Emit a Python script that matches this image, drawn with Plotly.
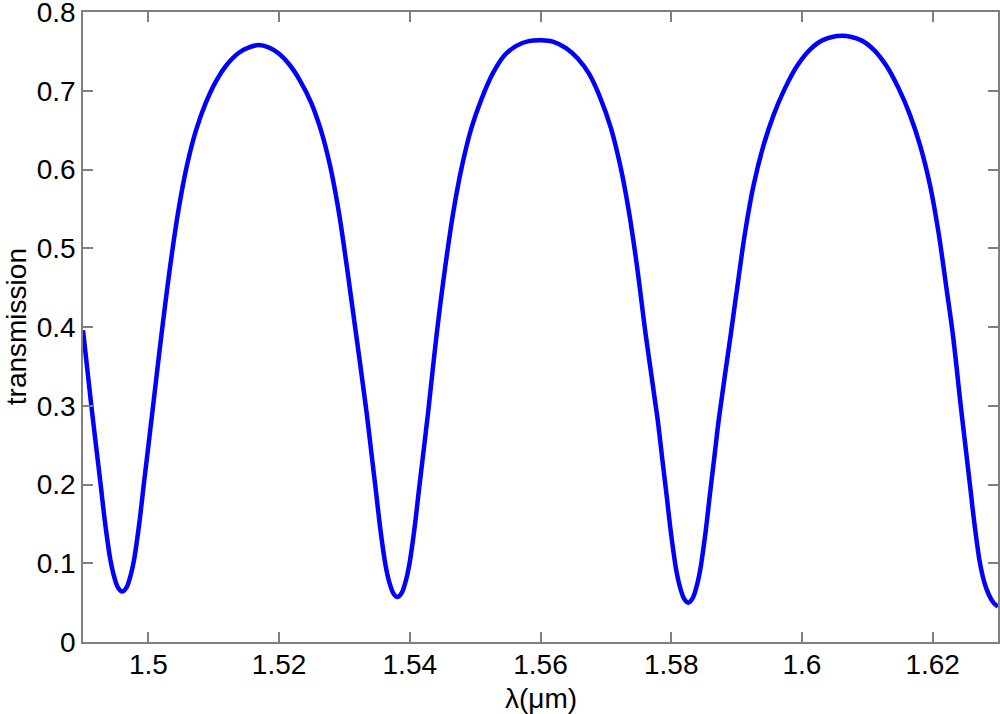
import plotly.graph_objects as go

# wavelength (um) and transmission
wavelength = [
    1.4900, 1.4913, 1.4920, 1.4927, 1.4934, 1.4942, 1.4948, 1.4954, 1.4960,
    1.4966, 1.4972, 1.4978, 1.4986, 1.4993, 1.5000, 1.5007,
    1.5020, 1.5033, 1.5046, 1.5059, 1.5073, 1.5088, 1.5104, 1.5120, 1.5138, 1.5154,
    1.5169, 1.5184, 1.5200, 1.5216, 1.5232, 1.5249, 1.5264, 1.5278, 1.5291, 1.5304,
    1.5318,
    1.5334, 1.5341, 1.5348, 1.5355, 1.5363, 1.5369, 1.5375, 1.5381, 1.5387, 1.5393,
    1.5399, 1.5407, 1.5414, 1.5421, 1.5428,
    1.5441, 1.5454, 1.5467, 1.5480, 1.5494, 1.5510, 1.5527, 1.5545, 1.5563, 1.5582,
    1.5601, 1.5620, 1.5639, 1.5657, 1.5674, 1.5691, 1.5708, 1.5722, 1.5735, 1.5748,
    1.5761,
    1.5779, 1.5786, 1.5793, 1.5800, 1.5808, 1.5814, 1.5820, 1.5826, 1.5832, 1.5838,
    1.5844, 1.5852, 1.5859, 1.5866, 1.5873,
    1.5891, 1.5901, 1.5913, 1.5926, 1.5941, 1.5957, 1.5974, 1.5993, 1.6012, 1.6031,
    1.6061, 1.6091, 1.6110, 1.6129, 1.6148, 1.6165, 1.6181, 1.6196, 1.6209, 1.6221,
    1.6231,
    1.6243, 1.6250, 1.6257, 1.6264, 1.6272, 1.6279, 1.6286, 1.6293, 1.6300,
]
transmission = [
    0.396, 0.298, 0.249, 0.200, 0.150, 0.104, 0.082, 0.0685, 0.064,
    0.0685, 0.082, 0.104, 0.150, 0.200, 0.249, 0.298,
    0.390, 0.475, 0.548, 0.605, 0.650, 0.685, 0.713, 0.733, 0.748, 0.755,
    0.758, 0.755, 0.747, 0.733, 0.713, 0.685, 0.650, 0.605, 0.548, 0.475,
    0.390,
    0.291, 0.242, 0.193, 0.143, 0.097, 0.075, 0.0615, 0.057, 0.0615, 0.075,
    0.097, 0.143, 0.193, 0.242, 0.291,
    0.390, 0.475, 0.548, 0.605, 0.652, 0.690, 0.722, 0.745, 0.757, 0.763,
    0.764, 0.762, 0.754, 0.741, 0.722, 0.692, 0.652, 0.605, 0.548, 0.475,
    0.390,
    0.284, 0.235, 0.186, 0.136, 0.090, 0.068, 0.0545, 0.050, 0.0545, 0.068,
    0.090, 0.136, 0.186, 0.235, 0.284,
    0.390, 0.450, 0.520, 0.580, 0.630, 0.670, 0.703, 0.732, 0.752, 0.764,
    0.770, 0.764, 0.752, 0.732, 0.703, 0.670, 0.630, 0.580, 0.520, 0.450,
    0.390,
    0.300, 0.250, 0.200, 0.150, 0.102, 0.076, 0.060, 0.050, 0.045,
]

x_ticks = [1.5, 1.52, 1.54, 1.56, 1.58, 1.6, 1.62]
y_ticks = [0, 0.1, 0.2, 0.3, 0.4, 0.5, 0.6, 0.7, 0.8]

font = dict(family="Liberation Sans, Arial, sans-serif", size=28, color="#000000")
axis_style = dict(
    showline=True,
    linecolor="#808080",
    linewidth=1.5,
    mirror="ticks",
    ticks="inside",
    ticklen=10,
    tickcolor="#808080",
    tickwidth=1.5,
    showgrid=False,
    zeroline=False,
    automargin=False,
    ticklabeloverflow="allow",
    tickfont=font,
)

fig = go.Figure(
    go.Scatter(
        x=wavelength,
        y=transmission,
        mode="lines",
        line=dict(color="#0000FF", width=4.5, shape="spline", smoothing=1.0),
        showlegend=False,
    )
)

fig.update_layout(
    width=1000,
    height=714,
    paper_bgcolor="#FFFFFF",
    plot_bgcolor="#FFFFFF",
    margin=dict(l=83, r=2, t=12, b=72),
    font=font,
    xaxis=dict(range=[1.49, 1.63], tickvals=x_ticks, ticklabelstandoff=-3, **axis_style),
    yaxis=dict(range=[0, 0.80001], tickvals=y_ticks, **axis_style),
    annotations=[
        dict(
            text="λ(μm)", xref="paper", yref="paper", x=0.5, y=-0.09,
            xanchor="center", yanchor="middle", showarrow=False, font=font,
        ),
        dict(
            text="transmission", xref="paper", yref="paper", x=-0.073, y=0.5,
            xanchor="center", yanchor="middle", textangle=-90, showarrow=False, font=font,
        ),
    ],
)

fig.write_html(
    "out.html",
    config={"displayModeBar": False},
    post_script="document.body.style.margin='0';",
)
